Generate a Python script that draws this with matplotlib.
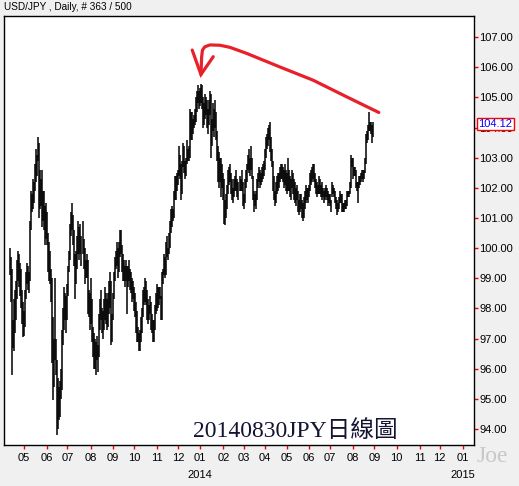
import numpy as np
import pandas as pd
import matplotlib
matplotlib.use("Agg")
import matplotlib.pyplot as plt

plt.rcParams['font.family'] = ['Liberation Sans', 'DejaVu Sans']

# ---------------- data ----------------
start_date = '2013-04-11'
axis_end_date = '2015-01-31'
title = 'USD/JPY , Daily, # 363 / 500'
watermark = '20140830JPY日線圖'
author = 'Joe'
last_close = 104.12
y_ticks = [94, 95, 96, 97, 98, 99, 100, 101, 102, 103, 104, 105, 106, 107]

highs = [
    100.0, 99.7, 99.3, 97.6, 98.3, 98.6, 98.9, 99.6, 99.9, 99.8,
    99.5, 99.3, 98.6, 98.2, 97.9, 98.6, 99.2, 99.5, 99.4, 99.2,
    100.9, 101.9, 101.8, 102.3, 102.2, 102.8, 103.3, 103.1, 103.7, 103.5,
    102.6, 102.3, 102.6, 101.9, 101.9, 101.4, 101.5, 101.2, 100.5, 100.2,
    99.9, 99.3, 99.0, 97.7, 97.0, 99.0, 97.0, 96.3, 95.7, 95.4,
    95.6, 96.0, 97.3, 98.0, 98.7, 98.5, 98.4, 98.8, 99.4, 99.9,
    100.8, 101.2, 101.5, 101.1, 100.6, 99.8, 99.9, 100.4, 100.9, 100.7,
    100.8, 100.4, 100.9, 100.3, 100.0, 99.6, 99.8, 99.6, 98.6, 98.5,
    99.0, 98.3, 97.4, 97.2, 97.0, 96.9, 97.1, 96.8, 97.8, 98.3,
    98.6, 98.0, 97.9, 98.3, 98.7, 98.5, 98.3, 98.5, 98.9, 99.2,
    98.9, 97.8, 98.5, 99.2, 99.7, 99.9, 100.2, 100.0, 100.2, 100.6,
    100.6, 100.1, 99.8, 99.6, 99.4, 99.6, 99.4, 99.4, 99.6, 99.3,
    99.2, 99.0, 98.9, 98.7, 98.5, 98.2, 97.9, 97.4, 97.2, 97.3,
    97.7, 98.0, 98.6, 98.7, 99.0, 98.9, 98.6, 98.3, 98.1, 98.4,
    98.2, 97.8, 97.6, 97.6, 98.1, 98.5, 98.8, 98.7, 98.7, 98.7,
    98.4, 99.2, 99.3, 99.8, 99.7, 100.2, 100.4, 100.0, 100.5, 100.9,
    101.3, 101.4, 101.3, 101.9, 102.4, 102.4, 102.5, 102.6, 103.4, 103.1,
    102.8, 102.9, 103.5, 103.4, 102.9, 103.0, 103.6, 103.3, 103.4, 104.6,
    104.5, 104.5, 104.3, 104.4, 104.6, 105.0, 105.2, 105.4, 105.2, 105.3,
    105.45, 105.4, 105.0, 104.8, 105.1, 105.0, 104.9, 104.6, 104.9, 105.2,
    105.1, 104.3, 104.8, 104.6, 104.9, 104.5, 103.9, 103.4, 103.2, 103.0,
    103.0, 102.8, 102.5, 102.3, 101.6, 101.8, 102.1, 102.6, 102.7, 102.8,
    102.5, 102.3, 102.0, 102.3, 102.4, 102.6, 102.3, 102.2, 102.4, 102.3,
    102.6, 102.2, 101.8, 102.3, 102.6, 102.8, 103.1, 103.3, 103.0, 103.4,
    103.0, 102.4, 101.9, 101.8, 101.9, 102.3, 102.5, 102.7, 102.6, 102.5,
    102.7, 102.8, 102.9, 103.3, 103.7, 103.8, 104.0, 104.1, 104.2, 103.7,
    103.3, 102.9, 102.4, 101.9, 102.2, 102.4, 102.5, 102.5, 102.7, 102.8,
    102.8, 102.7, 102.6, 102.8, 102.6, 102.5, 103.0, 102.6, 102.4, 102.3,
    102.6, 102.5, 102.3, 102.2, 102.0, 102.1, 101.9, 101.6, 101.8, 101.8,
    101.6, 101.5, 101.7, 101.9, 102.1, 102.0, 102.0, 102.1, 102.5, 102.6,
    102.7, 102.8, 102.8, 102.5, 102.3, 102.2, 102.1, 102.4, 102.3, 102.1,
    102.2, 102.0, 101.9, 102.0, 102.1, 102.0, 101.9, 101.8, 101.8, 101.6,
    102.2, 102.1, 102.0, 101.9, 101.7, 101.6, 101.5, 101.7, 101.9, 101.8,
    101.8, 101.5, 101.5, 101.6, 101.6, 101.9, 101.9, 101.9, 102.2, 103.1,
    103.0, 103.0, 102.7, 102.7, 102.6, 102.2, 102.2, 102.4, 102.4, 102.5,
    102.6, 102.6, 102.6, 103.0, 103.8, 103.9, 104.1, 104.5, 104.2, 104.2,
    104.1, 104.2,
]

lows = [
    99.1, 98.2, 95.8, 96.7, 96.6, 97.2, 97.6, 98.3, 98.9, 98.7,
    98.4, 98.0, 97.5, 97.05, 97.1, 97.4, 98.3, 98.8, 98.6, 98.5,
    98.9, 100.6, 101.2, 101.3, 101.5, 101.9, 102.2, 102.4, 102.9, 101.0,
    101.3, 101.4, 100.7, 100.9, 100.6, 100.1, 100.3, 100.1, 99.2, 98.9,
    98.8, 98.2, 96.2, 94.95, 95.4, 96.3, 95.8, 93.8, 94.0, 94.3,
    94.4, 95.0, 95.3, 96.8, 97.3, 97.6, 97.2, 97.6, 98.4, 99.2,
    99.6, 100.4, 100.6, 100.1, 99.4, 98.3, 98.8, 99.3, 99.8, 99.6,
    99.8, 99.4, 99.8, 99.3, 98.8, 99.0, 99.0, 97.8, 97.7, 97.3,
    97.5, 96.9, 96.4, 96.0, 96.0, 95.8, 96.3, 95.9, 96.4, 97.3,
    97.6, 97.2, 97.0, 97.3, 97.6, 97.5, 97.3, 97.4, 97.8, 98.0,
    96.8, 96.9, 97.6, 98.3, 98.9, 99.3, 99.4, 99.0, 99.2, 99.7,
    99.8, 99.2, 98.9, 98.9, 98.7, 98.9, 97.8, 98.7, 98.9, 98.6,
    98.5, 98.2, 98.3, 97.9, 97.7, 97.2, 96.9, 96.9, 96.6, 96.6,
    96.9, 97.2, 97.7, 98.1, 98.2, 98.1, 97.6, 97.5, 97.6, 97.8,
    97.3, 97.2, 96.9, 96.9, 97.3, 97.8, 97.9, 98.0, 98.1, 98.3,
    97.6, 97.6, 98.8, 99.1, 99.0, 99.1, 99.7, 99.6, 99.8, 100.0,
    100.5, 100.7, 100.9, 101.0, 101.6, 101.6, 101.9, 102.1, 102.4, 102.3,
    101.6, 101.8, 102.7, 102.5, 102.3, 102.4, 102.8, 102.9, 102.9, 103.0,
    103.6, 103.6, 103.8, 104.0, 104.1, 104.2, 104.5, 104.8, 104.6, 104.7,
    104.8, 104.6, 104.0, 104.1, 104.3, 104.4, 104.0, 103.8, 104.1, 104.4,
    103.0, 103.4, 103.9, 103.7, 104.0, 103.6, 102.9, 102.2, 102.0, 102.2,
    101.7, 102.0, 101.6, 100.8, 100.76, 101.0, 101.3, 101.8, 102.1, 102.2,
    101.8, 101.6, 101.5, 101.7, 101.9, 101.9, 101.7, 101.6, 101.9, 101.9,
    101.9, 101.4, 101.3, 101.5, 102.0, 102.2, 102.6, 102.5, 102.4, 102.6,
    102.3, 101.6, 101.2, 101.4, 101.3, 101.6, 102.0, 102.2, 102.0, 102.1,
    102.2, 102.3, 102.4, 102.6, 103.0, 103.3, 103.4, 103.6, 103.2, 102.9,
    102.7, 101.9, 101.6, 101.4, 101.5, 101.8, 101.9, 102.0, 102.2, 102.3,
    102.3, 102.2, 102.0, 102.1, 101.9, 101.8, 101.9, 101.9, 101.7, 101.6,
    102.0, 101.8, 101.6, 101.5, 101.4, 101.6, 101.2, 101.1, 101.2, 101.3,
    101.0, 100.9, 101.0, 101.3, 101.5, 101.6, 101.5, 101.7, 101.9, 102.1,
    102.2, 102.3, 102.2, 102.0, 101.8, 101.7, 101.8, 101.8, 101.8, 101.7,
    101.6, 101.7, 101.5, 101.6, 101.7, 101.6, 101.4, 101.5, 101.4, 101.2,
    101.7, 101.8, 101.7, 101.5, 101.3, 101.1, 101.2, 101.3, 101.5, 101.5,
    101.2, 101.2, 101.2, 101.3, 101.3, 101.4, 101.7, 101.7, 101.8, 102.0,
    102.7, 102.3, 102.4, 102.4, 102.0, 101.9, 101.5, 102.0, 102.1, 102.2,
    102.3, 102.2, 102.3, 102.5, 102.8, 103.5, 103.6, 103.9, 103.9, 103.8,
    103.5, 103.7,
]

# annotation arrow (hand-drawn red stroke), data coordinates (bar index, price)
arrow_x = [366.4, 334.4, 301.2, 268.1, 235.1, 218.5, 208.5, 198.6, 193.6, 191.2, 190.4, 189.7]
arrow_y = [104.50, 105.02, 105.57, 106.01, 106.46, 106.66, 106.73, 106.74, 106.68, 106.57, 106.35, 105.76]
wing_x = [181.0, 189.7, 201.9]
wing_y = [106.57, 105.76, 106.35]

# ---------------- figure ----------------
W, H = 519, 486
bg = '#F0F0F0'
fig = plt.figure(figsize=(W / 100, H / 100), dpi=100, facecolor=bg)
ax = fig.add_axes([4 / W, 1 - 445 / H, 470 / W, 429 / H])
ax.set_facecolor('white')

n = len(highs)
x = np.arange(n)
ax.vlines(x, lows, highs, color='black', lw=1.1)

# x axis: business-day index, ticks at first business day of month
all_days = pd.bdate_range(start_date, axis_end_date)
months = all_days.to_period('M')
month_pos = [i for i in range(1, len(all_days)) if months[i] != months[i - 1]]
ax.set_xticks(month_pos)
ax.set_xticklabels([all_days[i].strftime('%m') for i in month_pos])
ax.set_xlim(-6, 461)

for i in month_pos:
    if all_days[i].month == 1:
        ax.annotate(str(all_days[i].year), xy=(i, 0), xycoords=('data', 'axes fraction'),
                    xytext=(0, -21.6), textcoords='offset points',
                    ha='center', va='center', fontsize=8, color='black')

ax.yaxis.tick_right()
ax.set_yticks(y_ticks)
ax.set_yticklabels([f'{v:.2f}' for v in y_ticks])
ax.set_ylim(93.47, 107.70)

ax.tick_params(axis='x', direction='out', length=3, width=1, color='red',
               labelcolor='black', labelsize=8, pad=3)
ax.tick_params(axis='y', direction='out', length=3, width=1, color='red',
               labelcolor='black', labelsize=8, pad=1)
for s in ax.spines.values():
    s.set_color('black')
    s.set_linewidth(1.0)

# last price marker
ax.annotate(f'{last_close:.2f}', xy=(1, last_close), xycoords=('axes fraction', 'data'),
            xytext=(3.2, 0), textcoords='offset points', ha='left', va='center',
            fontsize=8, color='#0000FF',
            bbox=dict(boxstyle='square,pad=0.12', fc='white', ec='#FF0000', lw=1.0),
            annotation_clip=False)

# red hand-drawn arrow
ax.plot(arrow_x, arrow_y, color='#E8202A', lw=2.3, solid_capstyle='round',
        solid_joinstyle='round', clip_on=False)
ax.plot(wing_x, wing_y, color='#E8202A', lw=2.3, solid_capstyle='round',
        solid_joinstyle='miter', clip_on=False)

# texts
fig.text(4 / W, 1 - 7.5 / H, title, ha='left', va='center', fontsize=7.2, color='black')
fig.text(295 / W, 1 - 431 / H, watermark, ha='center', va='center', fontsize=17,
         color='#141432', family=['Liberation Serif', 'Noto Sans CJK TC'])
fig.text(492 / W, 1 - 456 / H, author, ha='center', va='center', fontsize=17,
         color='#C8C8C8', family=['Liberation Serif'])

fig.savefig('out.png', dpi=100, facecolor=bg)
